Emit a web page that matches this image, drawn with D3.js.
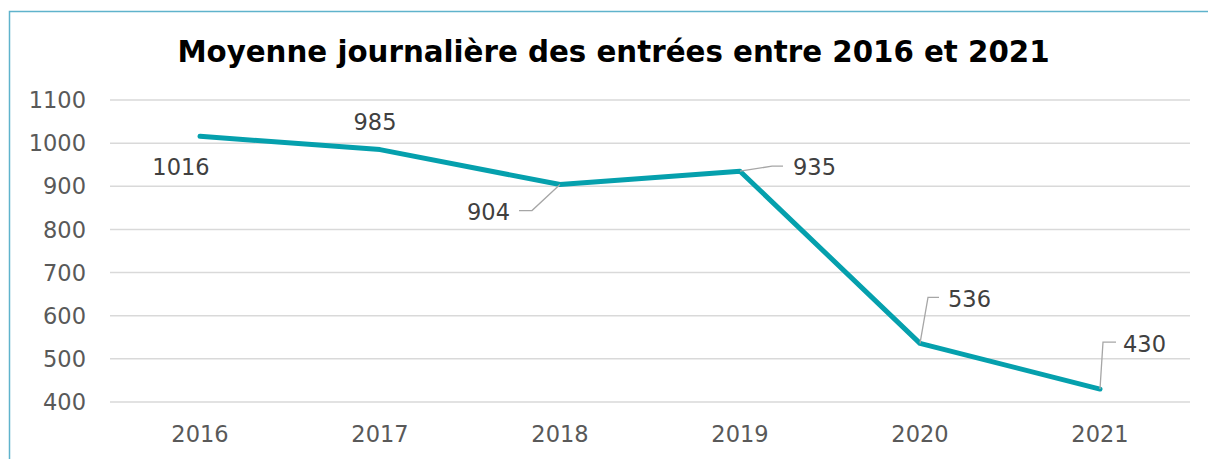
<!DOCTYPE html>
<html><head><meta charset="utf-8">
<script src="https://cdn.jsdelivr.net/npm/d3@7"></script>
<style>body{margin:0;background:#fff}svg{display:block}</style>
</head><body>
<svg id="c" width="1208" height="459"></svg>
<script>
const years = ["2016","2017","2018","2019","2020","2021"];
const values = [1016, 985, 904, 935, 536, 430];
const yTicks = [400, 500, 600, 700, 800, 900, 1000, 1100];
const labelPos = [
  {dx:-19, dy:31, anchor:"middle", leader:null},
  {dx:-5, dy:-28, anchor:"middle", leader:null},
  {dx:-50, dy:27, anchor:"end", leader:[[0,0],[-28,26],[-41,26]]},
  {dx:53, dy:-4, anchor:"start", leader:[[0,0],[32,-5],[43,-5]]},
  {dx:28, dy:-44, anchor:"start", leader:[[0,0],[8,-46],[19,-46]]},
  {dx:23, dy:-45, anchor:"start", leader:[[0,0],[3,-47],[16,-47]]}
];
const svg = d3.select("#c");
const font = "'DejaVu Sans', Verdana, sans-serif";
svg.append("rect").attr("x",9.5).attr("y",11.5).attr("width",1220).attr("height",460)
  .attr("fill","none").attr("stroke","#5fb3cc").attr("stroke-width",1.5);
svg.append("text").attr("x",613.5).attr("y",62).attr("text-anchor","middle")
  .attr("font-family",font).attr("font-weight","bold").attr("font-size",29.3).attr("fill","#000")
  .text("Moyenne journalière des entrées entre 2016 et 2021");
const x = d3.scaleBand().domain(years).range([110,1190]);
const y = d3.scaleLinear().domain([400,1100]).range([402,100]);
const g = svg.append("g");
g.selectAll("line.grid").data(yTicks).join("line").attr("class","grid")
  .attr("x1",110).attr("x2",1190).attr("y1",d=>y(d)).attr("y2",d=>y(d))
  .attr("stroke","#d9d9d9").attr("stroke-width",1.5);
g.selectAll("text.yt").data(yTicks).join("text").attr("class","yt")
  .attr("x",86).attr("y",d=>y(d)).attr("dy","0.36em").attr("text-anchor","end")
  .attr("font-family",font).attr("font-size",22.5).attr("fill","#595959").text(d=>d);
g.selectAll("text.xt").data(years).join("text").attr("class","xt")
  .attr("x",d=>x(d)+x.bandwidth()/2).attr("y",442).attr("text-anchor","middle")
  .attr("font-family",font).attr("font-size",22.5).attr("fill","#595959").text(d=>d);
const px = (d,i)=>x(years[i])+x.bandwidth()/2;
const line = d3.line().x((d,i)=>px(d,i)).y(d=>y(d));
g.append("path").datum(values).attr("d",line).attr("fill","none")
  .attr("stroke","#05a0ad").attr("stroke-width",5).attr("stroke-linejoin","round").attr("stroke-linecap","round");
values.forEach((v,i)=>{
  const p = labelPos[i], cx = px(v,i), cy = y(v);
  if (p.leader) {
    g.append("polyline").attr("points",p.leader.map(q=>[cx+q[0],cy+q[1]].join(",")).join(" "))
      .attr("fill","none").attr("stroke","#a6a6a6").attr("stroke-width",1.3);
  }
  g.append("text").attr("x",cx+p.dx).attr("y",cy+p.dy).attr("dy","0.36em").attr("text-anchor",p.anchor)
    .attr("font-family",font).attr("font-size",22.5).attr("fill","#404040").text(v);
});
</script>
</body></html>
